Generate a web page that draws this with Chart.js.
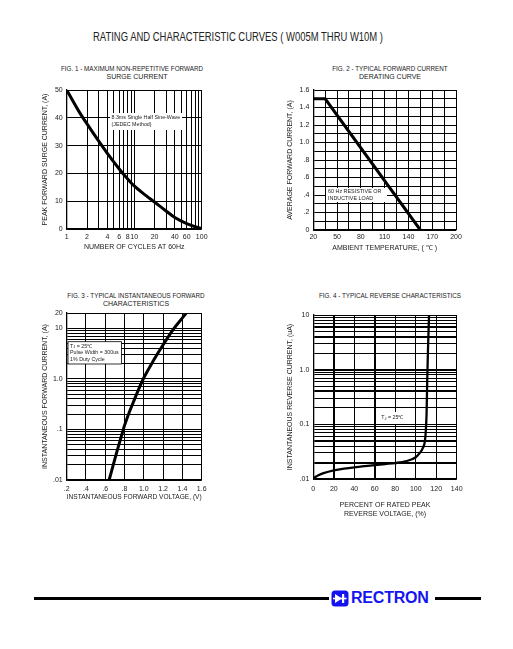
<!DOCTYPE html>
<html>
<head>
<meta charset="utf-8">
<script src="https://cdn.jsdelivr.net/npm/chart.js@4.4.1/dist/chart.umd.min.js"></script>
<style>
body { margin: 0; background: #fff; width: 513px; height: 649px; position: relative; overflow: hidden;
       font-family: 'Liberation Sans', Arial, sans-serif; color: #222; }
.t { position: absolute; width: 240px; text-align: center; white-space: nowrap; }
canvas { position: absolute; }
#hdr { position: absolute; left: 38px; top: 30px; width: 400px; text-align: center; font-size: 12px; line-height: 14px; }
#hdr span { display: inline-block; transform-origin: 50% 50%; }
.rule { position: absolute; height: 3px; background: #000; top: 597px; }
#brand { position: absolute; left: 351px; top: 589px; font: bold 16px 'Liberation Sans', Arial, sans-serif; color: #1414f0; letter-spacing: -0.2px; line-height: 18px; }
</style>
</head>
<body>
<div id="hdr"><span>RATING AND CHARACTERISTIC CURVES ( W005M THRU W10M )</span></div>

<div class="t" style="left:12px;top:65px;font-size:6.3px;line-height:8px">FIG. 1 - MAXIMUM NON-REPETITIVE FORWARD</div>
<div class="t" style="left:17px;top:73px;font-size:7px;line-height:8px">SURGE CURRENT</div>
<div class="t" style="left:270px;top:65px;font-size:6.3px;line-height:8px">FIG. 2 - TYPICAL FORWARD CURRENT</div>
<div class="t" style="left:270px;top:73px;font-size:7px;line-height:8px">DERATING CURVE</div>
<div class="t" style="left:16px;top:292px;font-size:6.3px;line-height:8px">FIG. 3 - TYPICAL INSTANTANEOUS FORWARD</div>
<div class="t" style="left:16px;top:300px;font-size:7px;line-height:8px">CHARACTERISTICS</div>
<div class="t" style="left:270px;top:292px;font-size:6.3px;line-height:8px">FIG. 4 - TYPICAL REVERSE CHARACTERISTICS</div>

<canvas id="fig1" width="174" height="178" style="left:41px;top:80px"></canvas>
<canvas id="fig2" width="190" height="178" style="left:286px;top:80px"></canvas>
<canvas id="fig3" width="174" height="200" style="left:41px;top:303px"></canvas>
<canvas id="fig4" width="190" height="215" style="left:286px;top:305px"></canvas>

<div class="rule" style="left:34px;width:295px"></div>
<svg style="position:absolute;left:331px;top:590px" width="18" height="17" viewBox="0 0 18 17">
  <rect x="0.5" y="0.5" width="17" height="16" rx="3.5" fill="#1414f0"/>
  <polygon points="4,4 4,13 11,8.5" fill="#fff"/>
  <rect x="11" y="4" width="2.2" height="9" fill="#fff"/>
  <rect x="2" y="7.7" width="13.5" height="1.6" fill="#fff"/>
</svg>
<div id="brand">RECTRON</div>
<div class="rule" style="left:435px;width:46px"></div>

<script>
// fig 1 - surge current vs cycles
const fig1Cycles = [1, 1.5, 2, 3, 4, 6, 8, 10, 15, 20, 30, 40, 60, 80, 100];
const fig1Surge = [50, 42.5, 37.8, 31.5, 27.2, 21.6, 18, 15.5, 12, 9.7, 6.4, 4.1, 1.9, 0.8, 0.2];
const fig1TicksX = [1, 2, 3, 4, 5, 6, 7, 8, 9, 10, 20, 30, 40, 50, 60, 70, 80, 90, 100];
const fig1LabelsX = [1, 2, 4, 6, 8, 10, 20, 40, 60, 100];
const fig1TicksY = [0, 10, 20, 30, 40, 50];

// fig 2 - derating
const fig2Temp = [20, 35, 155];
const fig2Current = [1.5, 1.5, 0];
const fig2TicksX = [20, 35, 50, 65, 80, 95, 110, 125, 140, 155, 170, 185, 200];
const fig2LabelsX = [20, 50, 80, 110, 140, 170, 200];
const fig2TicksY = [0, .1, .2, .3, .4, .5, .6, .7, .8, .9, 1, 1.1, 1.2, 1.3, 1.4, 1.5, 1.6];

// fig 3 - forward characteristics
const fig3Volt = [0.64, 0.68, 0.72, 0.76, 0.8, 0.85, 0.9, 0.95, 1.0, 1.1, 1.2, 1.3, 1.4, 1.44];
const fig3Amp = [0.01, 0.019, 0.036, 0.066, 0.12, 0.22, 0.38, 0.65, 1.05, 2.3, 4.7, 9.2, 16, 20];
const fig3TicksX = [0.2, 0.4, 0.6, 0.8, 1.0, 1.2, 1.4, 1.6];
const fig3LabelsY = { 0.01: '.01', 0.1: '.1', 1: '1.0', 10: '10', 20: '20' };

// fig 4 - reverse characteristics
const fig4Volt = [0, 5, 10, 20, 30, 40, 50, 60, 70, 80, 90, 100, 104, 107, 109, 110, 110.6, 111.2, 112, 113];
const fig4Rev = [0.0103, 0.0117, 0.0128, 0.0144, 0.0155, 0.0163, 0.0172, 0.018, 0.0188, 0.0196, 0.021, 0.025, 0.03, 0.037, 0.05, 0.085, 0.16, 0.6, 2.5, 10];
const fig4TicksX = [0, 20, 40, 60, 80, 100, 120, 140];
const fig4LabelsY = { 0.01: '.01', 0.1: '0.1', 1: '1.0', 10: '10' };
const fig4HeavyX = [20, 60];
const fig4HeavyY = [0.02, 0.05, 0.4, 1, 4, 6];

const FONT = "'Liberation Sans', Arial, sans-serif";
const INK = '#222';

function logTicks(min, max) {
  const out = [];
  for (let d = min; d < max * 10; d *= 10) {
    for (let m = 1; m <= 9; m++) {
      const v = +(m * d).toPrecision(3);
      if (v >= min && v <= max) out.push(v);
    }
  }
  return out;
}

function near(list, v) { return list.some(a => Math.abs(a - v) < 1e-6 * Math.max(1, a)); }

function decimalLabel(v) {
  if (Math.abs(v) < 1e-9) return '0';
  return v < 1 ? '.' + Math.round(v * 10) : v.toFixed(1);
}

function axis(o) {
  return {
    type: o.type || 'linear',
    min: o.min, max: o.max,
    afterBuildTicks: s => { s.ticks = o.ticks.map(v => ({ value: v })); },
    afterFit: s => { if (s.isHorizontal()) s.height = o.size; else s.width = o.size; },
    grid: {
      color: '#000', drawTicks: false,
      lineWidth: c => (o.heavy && c.tick && near(o.heavy, c.tick.value)) ? 2 : 1
    },
    border: { color: '#000', width: 1.3 },
    ticks: {
      color: INK, font: { family: FONT, size: 7 }, padding: o.tickPad,
      autoSkip: false, maxRotation: 0, callback: o.label
    },
    title: {
      display: true, text: o.title, color: INK,
      font: { family: FONT, size: 7, lineHeight: 1.3 },
      padding: { top: 0, bottom: o.titlePad || 0 }
    }
  };
}

// white note boxes over the grid
const noteBoxes = {
  id: 'noteBoxes',
  beforeDatasetsDraw(chart, args, opts) {
    const ctx = chart.ctx, a = chart.chartArea;
    (opts.boxes || []).forEach(b => {
      const x = a.left + b.dx, y = a.top + b.dy;
      ctx.save();
      ctx.fillStyle = '#fff';
      ctx.fillRect(x, y, b.w, b.h);
      if (b.border) { ctx.strokeStyle = '#000'; ctx.lineWidth = 0.8; ctx.strokeRect(x, y, b.w, b.h); }
      ctx.fillStyle = INK;
      ctx.textBaseline = 'middle';
      b.lines.forEach((line, i) => {
        let cx = x + b.pad;
        const cy = y + b.first + i * b.step;
        line.split('_').forEach((part, j) => {
          if (j > 0) {
            ctx.font = (b.size * 0.75) + 'px ' + FONT;
            ctx.fillText(part[0], cx, cy + 1.2);
            cx += ctx.measureText(part[0]).width;
            part = part.slice(1);
          }
          ctx.font = b.size + 'px ' + FONT;
          ctx.fillText(part, cx, cy);
          cx += ctx.measureText(part).width;
        });
      });
      ctx.restore();
    });
  }
};

function curve(xs, ys, width, smooth) {
  return {
    data: xs.map((x, i) => ({ x, y: ys[i] })),
    borderColor: '#000', borderWidth: width, pointRadius: 0,
    cubicInterpolationMode: smooth ? 'monotone' : 'default', tension: 0, fill: false
  };
}

function makeChart(id, dataset, x, y, pad, boxes) {
  new Chart(document.getElementById(id), {
    type: 'line',
    data: { datasets: [dataset] },
    options: {
      responsive: false, animation: false, devicePixelRatio: 1,
      layout: { padding: pad },
      plugins: { legend: { display: false }, tooltip: { enabled: false }, noteBoxes: { boxes } },
      scales: { x, y }
    },
    plugins: [noteBoxes]
  });
}

makeChart('fig1', curve(fig1Cycles, fig1Surge, 3, true),
  axis({ type: 'logarithmic', min: 1, max: 100, ticks: fig1TicksX, size: 29, tickPad: 4, titlePad: 6,
         title: 'NUMBER OF CYCLES AT 60Hz', label: v => near(fig1LabelsX, v) ? String(v) : '' }),
  axis({ min: 0, max: 50, ticks: fig1TicksY, size: 25.7, tickPad: 4,
         title: 'PEAK FORWARD SURGE CURRENT, (A)', label: v => String(v) }),
  { top: 10, right: 13.3, left: 0, bottom: 0 },
  [{ dx: 43.3, dy: 23, w: 72, h: 17, pad: 1.5, first: 5, step: 6.5, size: 5.3,
     lines: ['8.3ms Single Half Sine-Wave', '(JEDEC Method)'] }]);

makeChart('fig2', curve(fig2Temp, fig2Current, 3, false),
  axis({ min: 20, max: 200, ticks: fig2TicksX, size: 28, tickPad: 2.5, titlePad: 5,
         title: 'AMBIENT TEMPERATURE, ( ℃ )', label: v => near(fig2LabelsX, v) ? String(v) : '' }),
  axis({ min: 0, max: 1.6, ticks: fig2TicksY, size: 27.3, tickPad: 4,
         title: 'AVERAGE FORWARD CURRENT, (A)',
         label: v => Math.round(v * 10) % 2 === 0 ? decimalLabel(v) : '' }),
  { top: 10, right: 20, left: 0, bottom: 0 },
  [{ dx: 12.7, dy: 98, w: 61, h: 14, pad: 2, first: 4, step: 6.2, size: 5.4,
     lines: ['60 Hz RESISTIVE OR', 'INDUCTIVE LOAD'] }]);

makeChart('fig3', curve(fig3Volt, fig3Amp, 3, true),
  axis({ min: 0.2, max: 1.6, ticks: fig3TicksX, size: 23, tickPad: 5, titlePad: 1,
         title: 'INSTANTANEOUS FORWARD VOLTAGE, (V)', label: v => decimalLabel(v) }),
  axis({ type: 'logarithmic', min: 0.01, max: 20, ticks: logTicks(0.01, 20), size: 25.7, tickPad: 4,
         title: 'INSTANTANEOUS FORWARD CURRENT, (A)',
         label: v => { const k = Object.keys(fig3LabelsY).find(s => Math.abs(+s - v) < 1e-9); return k ? fig3LabelsY[k] : ''; } }),
  { top: 10, right: 13.3, left: 0, bottom: 0 },
  [{ dx: 1.3, dy: 28.7, w: 53.4, h: 22.3, pad: 2, first: 4.5, step: 6.5, size: 5.3, border: true,
     lines: ['T_J = 25℃', 'Pulse Width = 300us', '1% Duty Cycle'] }]);

makeChart('fig4', curve(fig4Volt, fig4Rev, 2.3, true),
  axis({ min: 0, max: 140, ticks: fig4TicksX, size: 41, tickPad: 5.8, titlePad: 1, heavy: fig4HeavyX,
         title: ['PERCENT OF RATED PEAK', 'REVERSE VOLTAGE, (%)'], label: v => String(v) }),
  axis({ type: 'logarithmic', min: 0.01, max: 10, ticks: logTicks(0.01, 10), size: 27.3, tickPad: 4, heavy: fig4HeavyY,
         title: 'INSTANTANEOUS REVERSE CURRENT, (uA)',
         label: v => { const k = Object.keys(fig4LabelsY).find(s => Math.abs(+s - v) < 1e-9); return k ? fig4LabelsY[k] : ''; } }),
  { top: 10, right: 19.3, left: 0, bottom: 0 },
  [{ dx: 66, dy: 97, w: 28, h: 12, pad: 2, first: 6, step: 6, size: 5.3,
     lines: ['T_J = 25℃'] }]);

// squeeze header to the width of the original
const hs = document.querySelector('#hdr span');
hs.style.transform = 'scaleX(' + (290 / hs.getBoundingClientRect().width) + ')';
</script>
</body>
</html>
